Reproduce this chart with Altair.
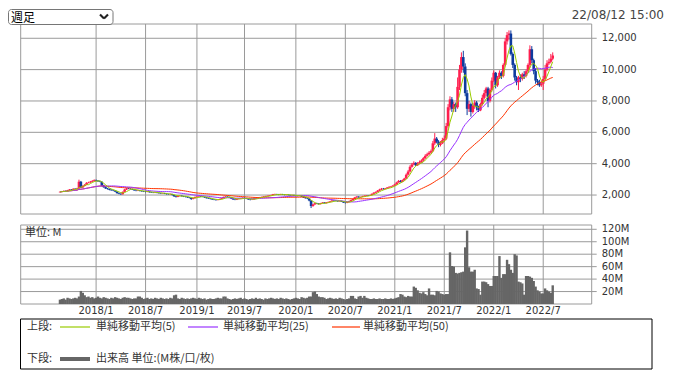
import altair as alt
import pandas as pd

# ---------------- data (weekly candles) ----------------
FIRST_WEEK = "2017-08-21"

open_ = [
    2180, 2200, 2230, 2260, 2250, 2300, 2350, 2330, 2400, 2380,
    2420, 2850, 2480, 2580, 2650, 2780, 2800, 2850, 2900, 2950,
    2920, 2880, 2850, 2600, 2500, 2420, 2380, 2330, 2300, 2280,
    2220, 2120, 2080, 2050, 2200, 2350, 2420, 2400, 2380, 2350,
    2300, 2280, 2300, 2260, 2240, 2220, 2200, 2220, 2180, 2160,
    2150, 2170, 2140, 2120, 2100, 2110, 2080, 2060, 2050, 2060,
    2000, 1920, 1880, 1950, 1960, 1930, 1900, 1880, 1850, 1820,
    1750, 1800, 1880, 1900, 1920, 1900, 1880, 1850, 1800, 1780,
    1750, 1720, 1700, 1680, 1700, 1750, 1800, 1880, 1900, 1880,
    1850, 1780, 1720, 1700, 1750, 1780, 1800, 1820, 1800, 1760,
    1720, 1700, 1720, 1780, 1820, 1850, 1860, 1880, 1900, 1930,
    1950, 1980, 2000, 2050, 2060, 2040, 2020, 2050, 2030, 2000,
    2020, 2000, 1980, 2000, 1960, 1950, 1940, 1960, 1900, 1850,
    1800, 1780, 1650, 1300, 1400, 1480, 1450, 1420, 1480, 1520,
    1480, 1530, 1560, 1600, 1650, 1640, 1620, 1600, 1620, 1580,
    1520, 1500, 1550, 1620, 1680, 1750, 1850, 1900, 1850, 1880,
    1920, 1950, 1980, 1960, 2000, 2080, 2150, 2200, 2280, 2350,
    2400, 2380, 2420, 2480, 2520, 2550, 2600, 2680, 2800, 2900,
    2850, 2950, 3050, 3300, 3500, 3800, 3950, 4050, 3900, 4000,
    4100, 4200, 4350, 4500, 4600, 4700, 4800, 5300, 5600, 5400,
    5200, 5300, 5500, 5600, 6400, 7600, 8100, 7500, 7800, 7600,
    8900, 10000, 10800, 10200, 8500, 7500, 7800, 7300, 7700, 7900,
    7600, 7400, 7800, 8200, 8500, 8800, 8000, 8700, 9300, 9800,
    9000, 9500, 9800, 9600, 10300, 11800, 12200, 12300, 11000, 10300,
    9500, 9200, 9500, 9400, 9700, 9600, 9900, 10300, 11300, 10600,
    9900, 9300, 9200, 9000, 9100, 9400, 10000, 10400, 10500, 10700,
]

high = [
    2230, 2260, 2290, 2290, 2330, 2380, 2380, 2430, 2430, 2460,
    2980, 2900, 2620, 2700, 2820, 2850, 2900, 2950, 3000, 2990,
    2950, 2920, 2870, 2650, 2550, 2460, 2420, 2370, 2340, 2310,
    2250, 2150, 2110, 2230, 2400, 2460, 2460, 2430, 2410, 2370,
    2330, 2330, 2320, 2290, 2270, 2250, 2250, 2250, 2210, 2190,
    2200, 2200, 2170, 2150, 2140, 2140, 2110, 2090, 2090, 2080,
    2020, 1950, 1970, 1990, 1980, 1950, 1920, 1900, 1870, 1840,
    1830, 1900, 1930, 1950, 1940, 1920, 1900, 1870, 1830, 1800,
    1770, 1740, 1720, 1720, 1770, 1820, 1900, 1930, 1920, 1900,
    1870, 1800, 1740, 1770, 1800, 1820, 1850, 1840, 1820, 1780,
    1740, 1740, 1800, 1840, 1870, 1880, 1900, 1920, 1950, 1970,
    2000, 2020, 2070, 2090, 2080, 2070, 2070, 2070, 2050, 2040,
    2040, 2020, 2020, 2020, 1990, 1970, 1980, 1980, 1920, 1870,
    1830, 1800, 1680, 1430, 1500, 1510, 1480, 1500, 1540, 1540,
    1550, 1580, 1620, 1680, 1680, 1660, 1640, 1640, 1640, 1600,
    1540, 1570, 1640, 1700, 1770, 1880, 1930, 1920, 1900, 1950,
    1980, 2000, 2000, 2020, 2100, 2180, 2230, 2320, 2400, 2450,
    2450, 2450, 2510, 2560, 2580, 2640, 2720, 2850, 2960, 2950,
    2990, 3100, 3380, 3600, 3900, 4050, 4150, 4100, 4100, 4200,
    4280, 4420, 4600, 4700, 4800, 4900, 5450, 5950, 5700, 5500,
    5450, 5650, 5800, 6600, 7800, 8300, 8250, 7950, 7900, 9500,
    10300, 11100, 11200, 10400, 8700, 8000, 7900, 7800, 8050, 8000,
    7700, 7900, 8400, 8700, 8900, 8900, 8800, 9500, 9950, 9850,
    9600, 9950, 9900, 10400, 12000, 12400, 12500, 12500, 11100, 10400,
    9600, 9600, 9700, 9800, 9900, 10000, 10400, 11550, 11500, 10700,
    10100, 9400, 9350, 9300, 9600, 10300, 10600, 10700, 11000, 11100,
]

low = [
    2160, 2180, 2210, 2220, 2230, 2280, 2300, 2320, 2350, 2360,
    2380, 2450, 2460, 2550, 2620, 2750, 2770, 2820, 2860, 2880,
    2840, 2820, 2560, 2470, 2390, 2350, 2300, 2280, 2250, 2190,
    2090, 2050, 2010, 2030, 2180, 2320, 2370, 2350, 2320, 2270,
    2240, 2250, 2230, 2210, 2190, 2170, 2180, 2150, 2130, 2120,
    2120, 2110, 2090, 2070, 2080, 2060, 2030, 2020, 2020, 1970,
    1880, 1840, 1860, 1920, 1900, 1870, 1850, 1820, 1790, 1690,
    1720, 1780, 1860, 1880, 1870, 1860, 1820, 1780, 1750, 1720,
    1690, 1670, 1640, 1660, 1680, 1730, 1780, 1860, 1860, 1820,
    1750, 1690, 1670, 1680, 1730, 1760, 1780, 1780, 1740, 1690,
    1660, 1680, 1700, 1760, 1800, 1830, 1840, 1860, 1880, 1910,
    1930, 1960, 1980, 2020, 2010, 1990, 2000, 2000, 1980, 1980,
    1970, 1950, 1960, 1940, 1920, 1910, 1920, 1880, 1820, 1770,
    1740, 1600, 1170, 1250, 1370, 1420, 1390, 1400, 1460, 1460,
    1460, 1510, 1540, 1580, 1610, 1600, 1570, 1580, 1560, 1500,
    1460, 1480, 1530, 1600, 1660, 1730, 1820, 1820, 1830, 1860,
    1890, 1930, 1930, 1950, 1980, 2060, 2120, 2180, 2250, 2320,
    2340, 2360, 2400, 2450, 2500, 2530, 2580, 2650, 2780, 2800,
    2820, 2920, 3020, 3250, 3450, 3750, 3900, 3850, 3850, 3950,
    4050, 4150, 4300, 4450, 4550, 4650, 4750, 5200, 5300, 5050,
    5100, 5250, 5400, 5500, 6300, 7400, 7300, 7300, 7300, 7500,
    8700, 9800, 9800, 8300, 7100, 7300, 7000, 7200, 7500, 7400,
    7300, 7350, 7700, 8100, 8300, 7600, 7900, 8600, 9200, 8800,
    8900, 9400, 9400, 9500, 10200, 11600, 11900, 10900, 10100, 9300,
    9000, 8700, 9200, 9300, 9400, 9500, 9800, 10100, 10400, 9700,
    9100, 9000, 8900, 8900, 8700, 9300, 9900, 10300, 10400, 10600,
]

close = [
    2200, 2230, 2260, 2250, 2300, 2350, 2330, 2400, 2380, 2420,
    2850, 2480, 2580, 2650, 2780, 2800, 2850, 2900, 2950, 2920,
    2880, 2850, 2600, 2500, 2420, 2380, 2330, 2300, 2280, 2220,
    2120, 2080, 2050, 2200, 2350, 2420, 2400, 2380, 2350, 2300,
    2280, 2300, 2260, 2240, 2220, 2200, 2220, 2180, 2160, 2150,
    2170, 2140, 2120, 2100, 2110, 2080, 2060, 2050, 2060, 2000,
    1920, 1880, 1950, 1960, 1930, 1900, 1880, 1850, 1820, 1750,
    1800, 1880, 1900, 1920, 1900, 1880, 1850, 1800, 1780, 1750,
    1720, 1700, 1680, 1700, 1750, 1800, 1880, 1900, 1880, 1850,
    1780, 1720, 1700, 1750, 1780, 1800, 1820, 1800, 1760, 1720,
    1700, 1720, 1780, 1820, 1850, 1860, 1880, 1900, 1930, 1950,
    1980, 2000, 2050, 2060, 2040, 2020, 2050, 2030, 2000, 2020,
    2000, 1980, 2000, 1960, 1950, 1940, 1960, 1900, 1850, 1800,
    1780, 1650, 1300, 1400, 1480, 1450, 1420, 1480, 1520, 1480,
    1530, 1560, 1600, 1650, 1640, 1620, 1600, 1620, 1580, 1520,
    1500, 1550, 1620, 1680, 1750, 1850, 1900, 1850, 1880, 1920,
    1950, 1980, 1960, 2000, 2080, 2150, 2200, 2280, 2350, 2400,
    2380, 2420, 2480, 2520, 2550, 2600, 2680, 2800, 2900, 2850,
    2950, 3050, 3300, 3500, 3800, 3950, 4050, 3900, 4000, 4100,
    4200, 4350, 4500, 4600, 4700, 4800, 5300, 5600, 5400, 5200,
    5300, 5500, 5600, 6400, 7600, 8100, 7500, 7800, 7600, 8900,
    10000, 10800, 10200, 8500, 7500, 7800, 7300, 7700, 7900, 7600,
    7400, 7800, 8200, 8500, 8800, 8000, 8700, 9300, 9800, 9000,
    9500, 9800, 9600, 10300, 11800, 12200, 12300, 11000, 10300, 9500,
    9200, 9500, 9400, 9700, 9600, 9900, 10300, 11300, 10600, 9900,
    9300, 9200, 9000, 9100, 9400, 10000, 10400, 10500, 10700, 10900,
]

volume_m = [
    7, 8, 9, 7, 10, 9, 8, 9, 10, 9,
    12, 21, 18, 14, 11, 12, 10, 11, 9, 10,
    12, 10, 9, 11, 10, 9, 8, 10, 9, 11,
    10, 9, 8, 10, 11, 10, 10, 9, 8, 9,
    9, 12, 12, 10, 8, 9, 10, 8, 9, 8,
    10, 9, 8, 10, 9, 8, 9, 8, 10, 9,
    14, 15, 9, 8, 10, 9, 8, 9, 8, 9,
    10, 9, 8, 10, 9, 8, 9, 7, 8, 9,
    8, 8, 9, 10, 9, 9, 12, 12, 9, 8,
    7, 8, 9, 8, 9, 10, 8, 9, 8, 7,
    8, 9, 8, 10, 8, 9, 8, 7, 9, 8,
    9, 10, 9, 8, 9, 8, 10, 9, 8, 9,
    8, 7, 8, 9, 10, 9, 8, 11, 10, 9,
    10, 12, 12, 19, 20, 16, 12, 11, 11, 10,
    8, 9, 10, 9, 8, 9, 8, 10, 9, 8,
    7, 8, 9, 13, 13, 9, 8, 12, 13, 10,
    13, 10, 9, 8, 8, 9, 8, 8, 9, 8,
    8, 9, 8, 8, 9, 8, 9, 10, 11, 16,
    15, 12, 11, 13, 12, 12, 28, 26, 22, 18,
    17, 19, 16, 14, 25, 15, 15, 14, 21, 20,
    17, 16, 15, 16, 16, 83, 61, 60, 50, 49,
    50, 51, 52, 91, 118, 59, 52, 52, 55, 25,
    24, 15, 36, 36, 35, 32, 29, 29, 45, 45,
    45, 77, 42, 48, 48, 71, 64, 55, 50, 80,
    78, 36, 35, 33, 15, 45, 45, 44, 42, 37,
    28, 22, 20, 17, 17, 25, 22, 20, 18, 30,
]

grid_dates = ["2018-01-01", "2018-07-02", "2019-01-07", "2019-07-01", "2020-01-06",
              "2020-07-06", "2021-01-04", "2021-07-05", "2022-01-03", "2022-07-04"]
grid_labels = ["2018/1", "2018/7", "2019/1", "2019/7", "2020/1",
               "2020/7", "2021/1", "2021/7", "2022/1", "2022/7"]
price_ticks = [2000, 4000, 6000, 8000, 10000, 12000]
price_labels = ["2,000", "4,000", "6,000", "8,000", "10,000", "12,000"]
vol_ticks = [20, 40, 60, 80, 100, 120]
vol_labels = ["20M", "40M", "60M", "80M", "100M", "120M"]

# ---------------- styles ----------------
RED = "#ff1f4f"
BLUE = "#0d3b9e"
MA5_C = "#99cc00"
MA25_C = "#9933ff"
MA50_C = "#ff3300"
GRID = "#9a9a9a"
VOL_C = "#666666"
TXT = "#333333"
CJK = "Noto Sans CJK JP"
LAT = "DejaVu Sans"

W, H = 657, 362
X0, X1 = 12.7, 583.7
P_TOP, P_BOT = 16, 206
V_TOP, V_BOT = 217, 296

dates = pd.date_range(FIRST_WEEK, periods=len(close), freq="7D").strftime("%Y-%m-%d")
df = pd.DataFrame({"date": list(dates), "open": open_, "high": high, "low": low,
                   "close": close, "vol": volume_m})
df["dir"] = ["up" if c >= o else "down" for o, c in zip(open_, close)]

grid_df = pd.DataFrame({"date": grid_dates, "label": grid_labels})
ptick_df = pd.DataFrame({"v": price_ticks, "label": price_labels})
vtick_df = pd.DataFrame({"v": vol_ticks, "label": vol_labels})

xs = alt.Scale(domain=[alt.DateTime(year=2017, month=4, date=17, utc=True),
                       alt.DateTime(year=2022, month=12, date=11, utc=True)],
               range=[X0, X1])
ps = alt.Scale(domain=[790, 12910], range=[P_BOT, P_TOP])
vs = alt.Scale(domain=[0, 126.9], range=[V_BOT, V_TOP])
cs = alt.Scale(domain=["up", "down"], range=[RED, BLUE])

X = alt.X("date:T", scale=xs, axis=None)
one = alt.Data(values=[{}])


def seg(x1, y1, x2, y2, color, w=1.0):
    return alt.Chart(one).mark_rule(color=color, strokeWidth=w).encode(
        x=alt.value(x1), y=alt.value(y1), x2=alt.value(x2), y2=alt.value(y2))


def box(x1, y1, x2, y2, stroke, fill="white", r=0, w=1.0, fo=1.0):
    return alt.Chart(one).mark_rect(stroke=stroke, strokeWidth=w, fill=fill,
                                    fillOpacity=fo, cornerRadius=r).encode(
        x=alt.value(x1), y=alt.value(y1), x2=alt.value(x2), y2=alt.value(y2))


def label(x, y, s, size=11, font=CJK, align="left", color=TXT):
    return alt.Chart(one).mark_text(text=s, font=font, fontSize=size, align=align,
                                    baseline="middle", color=color).encode(
        x=alt.value(x), y=alt.value(y))


base = alt.Chart(df)

# panel frames and grids
frames = [
    box(X0, P_TOP, X1, P_BOT, GRID, fo=0),
    box(X0, V_TOP, X1, V_BOT, GRID, fo=0),
]
vgrid_p = alt.Chart(grid_df).mark_rule(color=GRID).encode(x=X, y=alt.value(P_TOP), y2=alt.value(P_BOT))
vgrid_v = alt.Chart(grid_df).mark_rule(color=GRID).encode(x=X, y=alt.value(V_TOP), y2=alt.value(V_BOT))
hgrid_p = alt.Chart(ptick_df).mark_rule(color=GRID).encode(
    y=alt.Y("v:Q", scale=ps, axis=None), x=alt.value(X0), x2=alt.value(X1 + 5))
hgrid_v = alt.Chart(vtick_df).mark_rule(color=GRID).encode(
    y=alt.Y("v:Q", scale=vs, axis=None), x=alt.value(X0), x2=alt.value(X1 + 5))
plab = alt.Chart(ptick_df).mark_text(font=LAT, fontSize=10, align="left", baseline="middle",
                                     color=TXT).encode(
    y=alt.Y("v:Q", scale=ps, axis=None), x=alt.value(X1 + 10), text="label:N")
vlab = alt.Chart(vtick_df).mark_text(font=LAT, fontSize=10, align="left", baseline="middle",
                                     color=TXT).encode(
    y=alt.Y("v:Q", scale=vs, axis=None), x=alt.value(X1 + 10), text="label:N")
xlab = alt.Chart(grid_df).mark_text(font=LAT, fontSize=10, align="center", baseline="middle",
                                    color=TXT).encode(x=X, y=alt.value(303), text="label:N")

# candles
wick = base.mark_rule(strokeWidth=1).encode(
    x=X, y=alt.Y("low:Q", scale=ps, axis=None), y2="high:Q",
    color=alt.Color("dir:N", scale=cs, legend=None))
body = base.mark_bar(size=2.6).encode(
    x=X, y=alt.Y("open:Q", scale=ps, axis=None), y2="close:Q",
    color=alt.Color("dir:N", scale=cs, legend=None))


def ma(n, color):
    return base.transform_window(
        ma=f"mean(close)", frame=[-(n - 1), 0], sort=[alt.SortField("date")]
    ).mark_line(color=color, strokeWidth=1).encode(
        x=X, y=alt.Y("ma:Q", scale=ps, axis=None))


vol = base.mark_bar(size=2.4, color=VOL_C).encode(x=X, y=alt.Y("vol:Q", scale=vs, axis=None))

# header
header = [
    box(0.5, 1.5, 105, 16.5, "#767676", r=3),
    label(3, 9.5, "週足", size=12, color="#000000"),
    seg(92, 6.5, 96, 10.5, "#222222", 2.2),
    seg(96, 10.5, 100, 6.5, "#222222", 2.2),
    label(W - 1, 7, "22/08/12 15:00", size=12, font=LAT, align="right", color="#444444"),
    label(17, 225, "単位: M", size=11),
]

# legend box
LY1, LY2 = 319, 351
legend = [
    box(12.5, 311, 644, H - 1, "#000000", fo=0),
    label(19, LY1, "上段:"),
    seg(52, LY1, 82, LY1, MA5_C, 1.2),
    label(88, LY1, "単純移動平均(5)"),
    seg(180, LY1, 210, LY1, MA25_C, 1.2),
    label(215, LY1, "単純移動平均(25)"),
    seg(324, LY1, 352, LY1, MA50_C, 1.2),
    label(355, LY1, "単純移動平均(50)"),
    label(19, LY2, "下段:"),
    seg(52, LY2, 82, LY2, VOL_C, 4),
    label(88, LY2, "出来高 単位:(M株/口/枚)"),
]

chart = alt.layer(
    *frames, vgrid_p, vgrid_v, hgrid_p, hgrid_v,
    vol, wick, body, ma(50, MA50_C), ma(25, MA25_C), ma(5, MA5_C),
    plab, vlab, xlab, *header, *legend,
).resolve_scale(y="independent").properties(
    width=W, height=H, padding=0, autosize=alt.AutoSizeParams(type="none"),
    background="white",
).configure_view(stroke=None)

chart.save("out.html", embed_options={"renderer": "svg", "actions": False})
